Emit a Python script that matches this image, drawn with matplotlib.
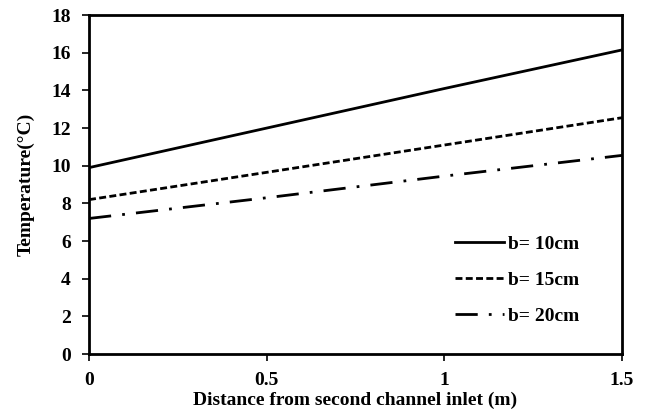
import matplotlib
matplotlib.use("Agg")
import matplotlib.pyplot as plt

plt.rcParams['font.family'] = ['Liberation Serif', 'DejaVu Serif']
plt.rcParams['font.weight'] = 'bold'

x = [0, 0.5, 1, 1.5]
b10 = [9.9, 12.0, 14.1, 16.15]
b15 = [8.2, 9.65, 11.1, 12.55]
b20 = [7.2, 8.3, 9.45, 10.55]
labels = ["b= 10cm", "b= 15cm", "b= 20cm"]

fig = plt.figure(figsize=(6.5, 4.19), dpi=100)
ax = fig.add_axes([0.137, 0.155, 0.820, 0.809])

ax.plot(x, b10, color='black', lw=2, linestyle='-', label=labels[0])
ax.plot(x, b15, color='black', lw=2, linestyle=(0, (2.5, 1.2)), label=labels[1])
ax.plot(x, b20, color='black', lw=2, linestyle=(0, (8, 4, 1, 4)), label=labels[2])

ax.set_xlim(0, 1.5)
ax.set_ylim(0, 18)
ax.set_xticks([0, 0.5, 1, 1.5])
ax.set_xticklabels(["0", "0.5", "1", "1.5"])
ax.set_yticks(range(0, 19, 2))
for s in ax.spines.values():
    s.set_linewidth(2)
ax.tick_params(direction='out', width=1.2, length=5, labelsize=14)
ax.tick_params(axis='x', pad=8)
ax.tick_params(axis='y', pad=8)
for t in ax.get_xticklabels() + ax.get_yticklabels():
    t.set_fontweight('bold')

ax.set_xlabel("Distance from second channel inlet (m)", fontsize=14, fontweight='bold', labelpad=2)
ax.set_ylabel("Temperature(°C)", fontsize=14, fontweight='bold', labelpad=12)

leg = ax.legend(loc='lower right', bbox_to_anchor=(0.952, 0.035), frameon=False,
                prop={'family': 'Liberation Serif', 'weight': 'bold', 'size': 14},
                handlelength=2.5, handletextpad=0.2, labelspacing=0.95)

fig.savefig("out.png", dpi=100)
